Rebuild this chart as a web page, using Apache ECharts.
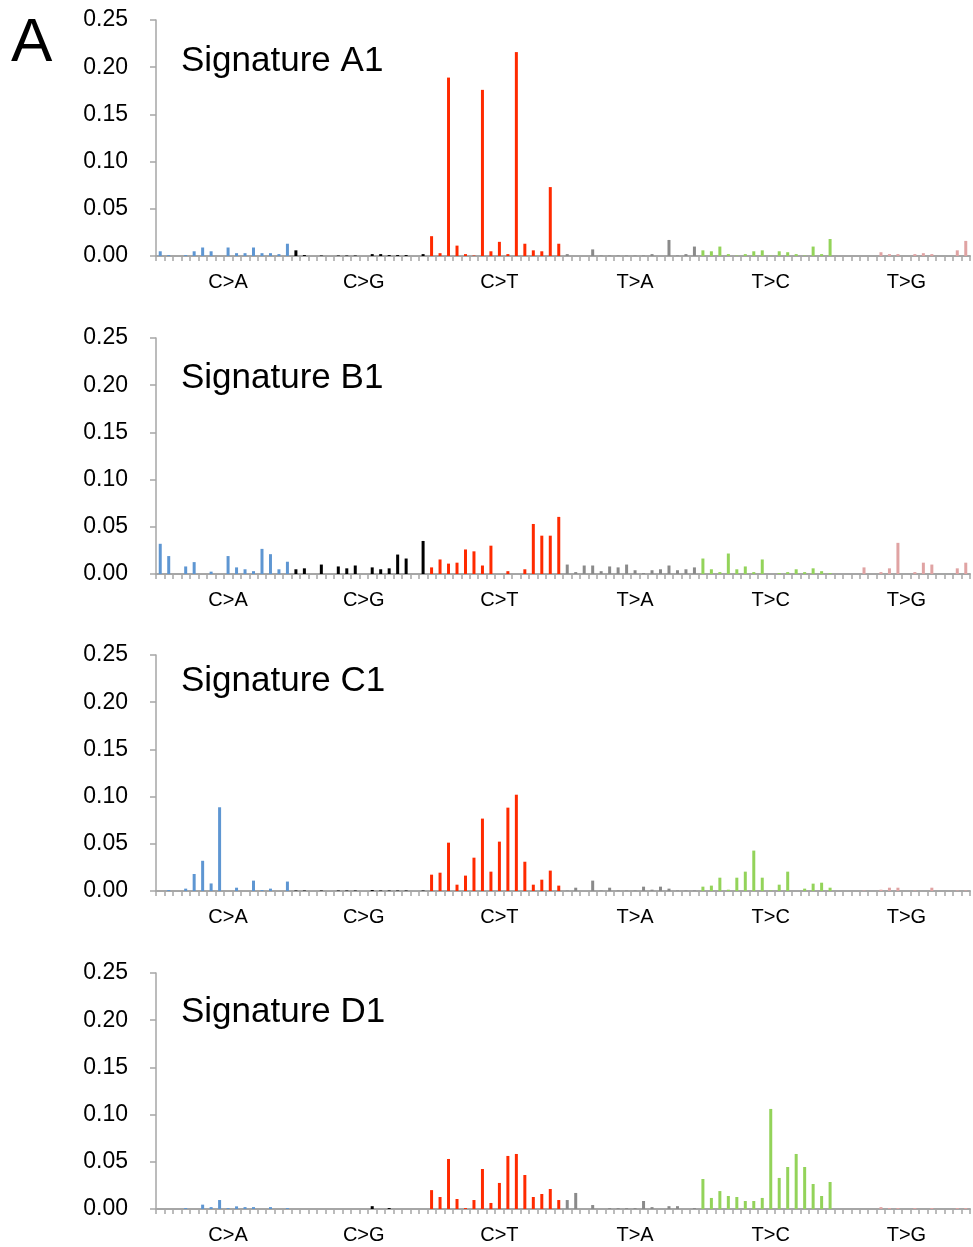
<!DOCTYPE html>
<html>
<head>
<meta charset="utf-8">
<script src="https://cdn.jsdelivr.net/npm/echarts@6/dist/echarts.min.js"></script>
<style>
html,body{margin:0;padding:0;background:#fff;}
#chart{width:973px;height:1247px;}
</style>
</head>
<body>
<div id="chart"></div>
<script>
// ---- DATA ----
const substitutions = ['C>A', 'C>G', 'C>T', 'T>A', 'T>C', 'T>G'];
const bases = ['A', 'C', 'G', 'T'];
const signatureNames = ['Signature A1', 'Signature B1', 'Signature C1', 'Signature D1'];
const yTicks = [0, 0.05, 0.10, 0.15, 0.20, 0.25];

const sigA1 = [
  0.005, 0.001, 0, 0.001, 0.005, 0.009, 0.005, 0, 0.009, 0.003, 0.003, 0.009, 0.003, 0.003, 0.002, 0.013,
  0.006, 0.001, 0, 0.0005, 0, 0.0005, 0.0005, 0.0005, 0, 0.002, 0.002, 0.001, 0.001, 0.001, 0, 0.002,
  0.021, 0.003, 0.189, 0.011, 0.002, 0.0005, 0.176, 0.005, 0.015, 0.002, 0.216, 0.013, 0.006, 0.005, 0.073, 0.013,
  0.002, 0, 0, 0.007, 0.0005, 0.0005, 0.0005, 0.0005, 0.0005, 0.0005, 0.002, 0, 0.017, 0.0005, 0.002, 0.010,
  0.006, 0.005, 0.010, 0.002, 0.0005, 0.002, 0.005, 0.006, 0.0005, 0.005, 0.004, 0.002, 0.0005, 0.010, 0.002, 0.018,
  0, 0, 0, 0, 0, 0.004, 0.002, 0.002, 0, 0.002, 0.003, 0.002, 0, 0, 0.006, 0.016
];
const sigB1 = [
  0.032, 0.019, 0, 0.008, 0.0126, 0, 0.0025, 0, 0.019, 0.007, 0.005, 0.003, 0.0266, 0.021, 0.005, 0.013,
  0.005, 0.006, 0, 0.010, 0, 0.008, 0.006, 0.009, 0, 0.007, 0.005, 0.006, 0.0206, 0.0164, 0, 0.035,
  0.007, 0.0154, 0.011, 0.012, 0.026, 0.024, 0.009, 0.030, 0, 0.003, 0, 0.005, 0.053, 0.0406, 0.0406, 0.0605,
  0.010, 0.002, 0.009, 0.009, 0.003, 0.008, 0.007, 0.010, 0.004, 0.001, 0.004, 0.005, 0.009, 0.004, 0.005, 0.007,
  0.0164, 0.005, 0.002, 0.0217, 0.005, 0.008, 0.002, 0.0154, 0, 0.001, 0.002, 0.005, 0.002, 0.006, 0.003, 0.001,
  0, 0, 0, 0.007, 0, 0.002, 0.006, 0.033, 0, 0.002, 0.012, 0.010, 0, 0, 0.006, 0.012
];
const sigC1 = [
  0, 0.001, 0, 0.0025, 0.018, 0.032, 0.008, 0.0887, 0, 0.0035, 0, 0.011, 0.001, 0.0025, 0, 0.010,
  0.0005, 0.0005, 0, 0.0005, 0, 0.0005, 0.0005, 0.0005, 0, 0.001, 0.0005, 0.0005, 0.0005, 0.0005, 0, 0.0005,
  0.0173, 0.0194, 0.0512, 0.0067, 0.0163, 0.0353, 0.0767, 0.0205, 0.0523, 0.0883, 0.102, 0.031, 0.0067, 0.012, 0.0216, 0.0057,
  0.0005, 0.0035, 0, 0.011, 0.0005, 0.0035, 0.0005, 0.0005, 0.0005, 0.0046, 0.0014, 0.0046, 0.0025, 0.0005, 0.0005, 0.0005,
  0.0046, 0.0057, 0.0141, 0.0014, 0.0141, 0.0205, 0.0428, 0.0141, 0.0005, 0.0067, 0.0205, 0, 0.0025, 0.0078, 0.0088, 0.0035,
  0, 0, 0, 0.0005, 0, 0.0014, 0.0035, 0.0035, 0, 0.0005, 0, 0.0035, 0, 0, 0.0005, 0.0005
];
const sigD1 = [
  0, 0, 0, 0.001, 0, 0.0046, 0.002, 0.0095, 0.001, 0.0028, 0.002, 0.002, 0, 0.002, 0, 0.001,
  0, 0, 0, 0, 0, 0, 0, 0, 0, 0.003, 0, 0.001, 0, 0, 0, 0,
  0.020, 0.0127, 0.053, 0.0106, 0.001, 0.0095, 0.0424, 0.0064, 0.0276, 0.0562, 0.0583, 0.036, 0.0127, 0.0159, 0.0212, 0.0095,
  0.0095, 0.017, 0, 0.0042, 0, 0.001, 0.001, 0.001, 0.001, 0.0085, 0.002, 0, 0.003, 0.003, 0, 0.001,
  0.0318, 0.0117, 0.019, 0.0138, 0.0127, 0.0085, 0.0085, 0.0117, 0.106, 0.0329, 0.0445, 0.0583, 0.0445, 0.0265, 0.0138, 0.0286,
  0, 0, 0, 0, 0, 0.002, 0.001, 0.001, 0, 0.001, 0, 0.001, 0, 0, 0.001, 0.001
];
const signatures = [sigA1, sigB1, sigC1, sigD1];

// ---- STYLE ----
const groupColors = ['#5e96d2', '#000000', '#ff2a00', '#8a8a8a', '#93d35a', '#e0a3a3'];
const axisGray = '#a6a6a6';
const FONT = '"Liberation Sans", Arial, Helvetica, sans-serif';

// categories: trinucleotide contexts
const categories = [];
substitutions.forEach(s => {
  bases.forEach(b5 => {
    bases.forEach(b3 => categories.push(b5 + '[' + s + ']' + b3));
  });
});

const gridTops = [20, 338, 655, 973];
const gridHeight = 236;
const titleY = [62, 379, 682, 1013];

const grids = [], xAxes = [], yAxes = [], series = [], graphics = [];
signatures.forEach((vals, k) => {
  grids.push({ left: 156, right: 3, top: gridTops[k], height: gridHeight, containLabel: false });
  xAxes.push({
    type: 'category', gridIndex: k, data: categories,
    boundaryGap: true,
    axisLine: { show: true, lineStyle: { color: axisGray, width: 2 } },
    axisTick: { show: true, interval: 0, length: 5, lineStyle: { color: axisGray, width: 1.5 } },
    axisLabel: {
      interval: i => i % 16 === 8,
      formatter: (v, i) => substitutions[Math.floor(i / 16)],
      color: '#000', fontSize: 20, fontFamily: FONT, margin: 16
    },
    splitLine: { show: false }
  });
  yAxes.push({
    type: 'value', gridIndex: k, min: 0, max: 0.25, interval: 0.05,
    axisLine: { show: true, lineStyle: { color: axisGray, width: 1.5 } },
    axisTick: { show: true, length: 6, lineStyle: { color: axisGray, width: 1.5 } },
    axisLabel: {
      formatter: v => v.toFixed(2), color: '#000', fontSize: 23, fontFamily: FONT,
      margin: 28, padding: [6, 0, 0, 0]
    },
    splitLine: { show: false }
  });
  series.push({
    type: 'bar', xAxisIndex: k, yAxisIndex: k, data: vals, barWidth: 3,
    itemStyle: { color: p => groupColors[Math.floor(p.dataIndex / 16)] },
    animation: false, silent: true
  });
  graphics.push({
    type: 'text', left: 181, top: titleY[k] - 18,
    style: { text: signatureNames[k], font: '35px ' + FONT, fill: '#000' }
  });
});
graphics.push({
  type: 'text', left: 11, top: 13,
  style: { text: 'A', font: '62px ' + FONT, fill: '#000' }
});

const chart = echarts.init(document.getElementById('chart'), null, { renderer: 'canvas' });
chart.setOption({
  backgroundColor: '#fff',
  animation: false,
  grid: grids, xAxis: xAxes, yAxis: yAxes, series: series,
  graphic: graphics
});
</script>
</body>
</html>
